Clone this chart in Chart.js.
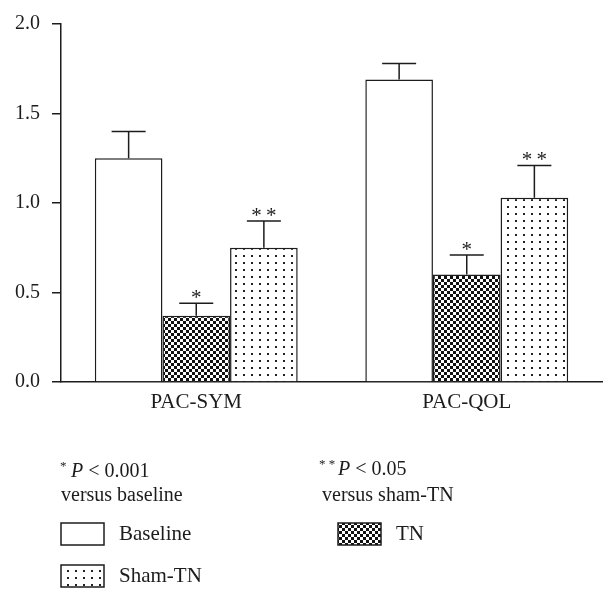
<!DOCTYPE html>
<html><head><meta charset="utf-8">
<script src="https://cdn.jsdelivr.net/npm/chart.js@4"></script>
<style>html,body{margin:0;padding:0;background:#fff}#wrap{width:616px;height:600px}</style>
</head><body><div id="wrap"><canvas id="c" width="616" height="600"></canvas></div>
<script>
const categories = ['PAC-SYM', 'PAC-QOL'];
const seriesNames = ['Baseline', 'TN', 'Sham-TN'];
const baselineValues = [1.25, 1.69];
const tnValues = [0.37, 0.60];
const shamValues = [0.75, 1.03];
const baselineErrors = [0.15, 0.09];
const tnErrors = [0.07, 0.11];
const shamErrors = [0.15, 0.18];
const significanceMarks = [['', ''], ['*', '*'], ['**', '**']];
const yTicks = [0, 0.5, 1.0, 1.5, 2.0];
const noteLeft = ['P < 0.001', 'versus baseline'];
const noteRight = ['P < 0.05', 'versus sham-TN'];

const FONT = "'Liberation Serif', 'DejaVu Serif', serif";
const INK = '#1c1c1c';

function checkerPattern() {
  const c = document.createElement('canvas'); c.width = 6; c.height = 6;
  const g = c.getContext('2d');
  g.fillStyle = '#fff'; g.fillRect(0, 0, 6, 6);
  g.fillStyle = '#111'; g.fillRect(0, 0, 3, 3); g.fillRect(3, 3, 3, 3);
  return g.createPattern(c, 'repeat');
}
function dotPattern() {
  const c = document.createElement('canvas'); c.width = 8; c.height = 7;
  const g = c.getContext('2d');
  g.fillStyle = '#fff'; g.fillRect(0, 0, 8, 7);
  g.fillStyle = '#222'; g.fillRect(3, 3, 2, 2);
  return g.createPattern(c, 'repeat');
}
const fills = ['#ffffff', checkerPattern(), dotPattern()];
const values = [baselineValues, tnValues, shamValues];
const errors = [baselineErrors, tnErrors, shamErrors];

const errorBars = {
  id: 'errorBars',
  afterDatasetsDraw(chart) {
    const ctx = chart.ctx, ys = chart.scales.y;
    ctx.save();
    ctx.strokeStyle = INK; ctx.lineWidth = 1.5;
    chart.data.datasets.forEach((ds, i) => {
      const meta = chart.getDatasetMeta(i);
      meta.data.forEach((el, j) => {
        const top = ys.getPixelForValue(ds.data[j] + ds.errors[j]);
        ctx.beginPath();
        ctx.moveTo(el.x, el.y); ctx.lineTo(el.x, top);
        ctx.moveTo(el.x - 17, top); ctx.lineTo(el.x + 17, top);
        ctx.stroke();
        const mark = ds.marks[j];
        if (mark) {
          ctx.fillStyle = INK;
          ctx.font = '21px ' + FONT;
          ctx.textAlign = 'center'; ctx.textBaseline = 'alphabetic';
          ctx.fillText(mark.split('').join('\u2009'), el.x, top + 1);
        }
      });
    });
    ctx.restore();
  }
};

const notes = {
  id: 'notes',
  afterDraw(chart) {
    const ctx = chart.ctx;
    ctx.save();
    ctx.fillStyle = INK;
    ctx.textBaseline = 'alphabetic'; ctx.textAlign = 'left';
    function pLine(stars, x, starX, y) {
      ctx.font = '13px ' + FONT;
      ctx.fillText(stars, starX, y - 7);
      ctx.font = 'italic 20px ' + FONT;
      ctx.fillText('P', x, y);
      const w = ctx.measureText('P').width;
      ctx.font = '20px ' + FONT;
      return w;
    }
    let w = pLine('*', 71, 60, 477);
    ctx.fillText(noteLeft[0].slice(1), 71 + w, 477);
    ctx.fillText(noteLeft[1], 61, 501);
    w = pLine('* *', 338, 319, 475);
    ctx.fillText(noteRight[0].slice(1), 338 + w, 475);
    ctx.fillText(noteRight[1], 322, 501);

    // legend
    const boxes = [[61, 523], [338, 523], [61, 565]];
    const textX = [119, 396, 119];
    chart.data.datasets.forEach((ds, i) => {
      const [bx, by] = boxes[i];
      ctx.fillStyle = ds.backgroundColor;
      ctx.fillRect(bx, by, 43, 22);
      ctx.strokeStyle = INK; ctx.lineWidth = 1.5;
      ctx.strokeRect(bx, by, 43, 22);
      ctx.fillStyle = INK;
      ctx.font = '21px ' + FONT;
      ctx.textBaseline = 'middle';
      ctx.fillText(ds.label, textX[i], by + 11);
    });
    ctx.restore();
  }
};

new Chart(document.getElementById('c'), {
  type: 'bar',
  data: {
    labels: categories,
    datasets: seriesNames.map((name, i) => ({
      label: name,
      data: values[i],
      errors: errors[i],
      marks: significanceMarks[i],
      backgroundColor: fills[i],
      borderColor: INK,
      borderWidth: 1.5,
      borderSkipped: 'bottom'
    }))
  },
  options: {
    responsive: false,
    devicePixelRatio: 1,
    animation: false,
    layout: { padding: { top: 22, right: 14, left: 0, bottom: 0 } },
    datasets: { bar: { barPercentage: 1, categoryPercentage: 0.75 } },
    plugins: { legend: { display: false }, tooltip: { enabled: false } },
    scales: {
      x: {
        grid: { display: false },
        border: { color: INK, width: 1.5 },
        ticks: { font: { family: FONT, size: 21 }, color: INK, padding: 0 },
        afterFit: s => { s.height = 218; }
      },
      y: {
        min: 0, max: 2,
        afterBuildTicks: s => { s.ticks = yTicks.map(v => ({ value: v })); },
        ticks: { callback: v => Number(v).toFixed(1), font: { family: FONT, size: 20 }, color: INK, padding: 12 },
        grid: { drawOnChartArea: false, drawTicks: true, tickLength: 9, color: INK, lineWidth: 1.5 },
        border: { color: INK, width: 1.5 },
        afterFit: s => { s.width = 61; }
      }
    }
  },
  plugins: [errorBars, notes]
});
</script></body></html>
